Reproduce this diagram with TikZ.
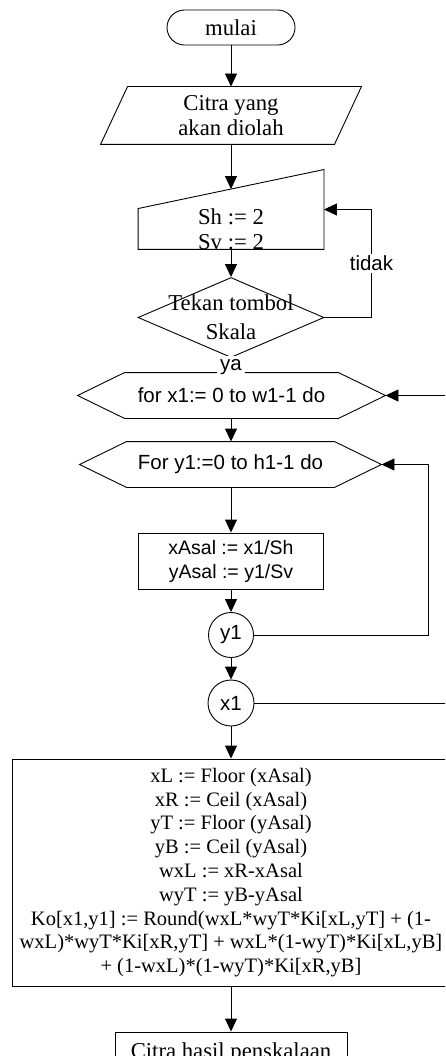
\documentclass[tikz,border=0pt]{standalone}
\usepackage{fontspec}
\setmainfont{Liberation Serif}
\setsansfont{Liberation Sans}
\usetikzlibrary{arrows.meta,shapes.geometric}
\tikzset{
  >={Triangle[length=13pt,width=12pt]},
  serif/.style={font=\fontsize{22.7}{25}\selectfont, align=center},
  sans/.style={font=\sffamily\fontsize{20.5}{24}\selectfont, align=center},
  box/.style={draw, rectangle, inner sep=0pt},
}

\begin{document}
\begin{tikzpicture}[x=1pt,y=-1pt,line width=0.9pt]
  \useasboundingbox (0,0) rectangle (445,1056);
  \clip (0,0) rectangle (445,1056);
  % mulai, input
  \node[box, rounded corners=17.5pt, minimum width=128, minimum height=35, serif] (mulai) at (231,27.5) {mulai};
  \node[serif, minimum width=233, minimum height=57] (citra) at (231,115.5) {Citra yang\\akan diolah};
  \draw ([xshift=-13.5]citra.south west) -- ([xshift=-13.5]citra.south east) -- ([xshift=13.5]citra.north east) -- ([xshift=13.5]citra.north west) -- cycle;
  % manual input
  \node[minimum width=185, minimum height=79] (sh) at (231,209.5) {};
  \draw (sh.south west) -- (sh.south east) -- (sh.north east) -- coordinate[midway] (shtop) ([yshift=-39]sh.north west) -- cycle;
  \node[serif] (shtext) at ([yshift=-20]sh.center) {Sh := 2\\Sv := 2};
  % keputusan
  \node[diamond, draw, inner sep=0pt, minimum width=186, minimum height=80] (tekan) at (231,317.5) {};
  \node[serif, font=\fontsize{22.7}{29}\selectfont] (tekantext) at (tekan.center) {Tekan tombol\\Skala};
  % perulangan
  \node[sans, minimum width=307, minimum height=45] (forx) at (231.5,395.5) {for x1:= 0 to w1-1 do};
  \draw (forx.west) -- ([xshift=47]forx.north west) -- ([xshift=-47]forx.north east) -- (forx.east) -- ([xshift=-47]forx.south east) -- ([xshift=47]forx.south west) -- cycle;
  \node[sans, minimum width=301, minimum height=45] (fory) at (230.5,464.5) {For y1:=0 to h1-1 do};
  \draw (fory.west) -- ([xshift=47]fory.north west) -- ([xshift=-47]fory.north east) -- (fory.east) -- ([xshift=-47]fory.south east) -- ([xshift=47]fory.south west) -- cycle;
  \node[box, sans, font=\sffamily\fontsize{19.5}{24}\selectfont, minimum width=185, minimum height=56] (asal) at (231,561) {xAsal := x1/Sh\\yAsal := y1/Sv};
  \node[draw, circle, inner sep=0pt, minimum size=45, sans] (y1) at (231,635) {y1};
  \node[draw, circle, inner sep=0pt, minimum size=46, sans] (x1) at (231,703) {x1};
  % proses
  \node[box, serif, font=\fontsize{20.5}{23.8}\selectfont, minimum width=438, minimum height=227] (hitung) at (231,872.5) {xL := Floor (xAsal)\\xR := Ceil (xAsal)\\yT := Floor (yAsal)\\yB := Ceil (yAsal)\\wxL := xR-xAsal\\wyT := yB-yAsal\\Ko[x1,y1] := Round(wxL*wyT*Ki[xL,yT] + (1-\\wxL)*wyT*Ki[xR,yT] + wxL*(1-wyT)*Ki[xL,yB]\\+ (1-wxL)*(1-wyT)*Ki[xR,yB]};
  \node[box, serif, minimum width=232, minimum height=42] (hasil) at (231,1053) {Citra hasil penskalaan};
  % panah
  \draw[->] (mulai.south) -- (citra.north);
  \draw[->] (citra.south) -- (shtop);
  \draw[->] (sh.south) -- (tekan.north);
  \draw (tekan.south) -- node[sans, fill=white, inner sep=3pt, yshift=-1.5pt] {ya} (forx.north -| tekan.south);
  \draw[->] (tekan.east) -- ++(47,0) |- (sh.east) node[pos=0.25, sans, fill=white, inner sep=2pt] {tidak};
  \draw[->] (forx.south -| x1.south) -- (fory.north -| x1.south);
  \draw[->] (fory.south -| x1.south) -- (asal.north);
  \draw[->] (asal.south) -- (y1.north);
  \draw[->] (y1.south) -- (x1.north);
  \draw[->] (x1.south) -- (hitung.north);
  \draw[->] (hitung.south) -- (hasil.north);
  \draw[->] (y1.east) -- ++(174.5,0) |- (fory.east);
  \draw[->] (x1.east) -- ++(230,0) |- (forx.east);
\end{tikzpicture}
\end{document}
